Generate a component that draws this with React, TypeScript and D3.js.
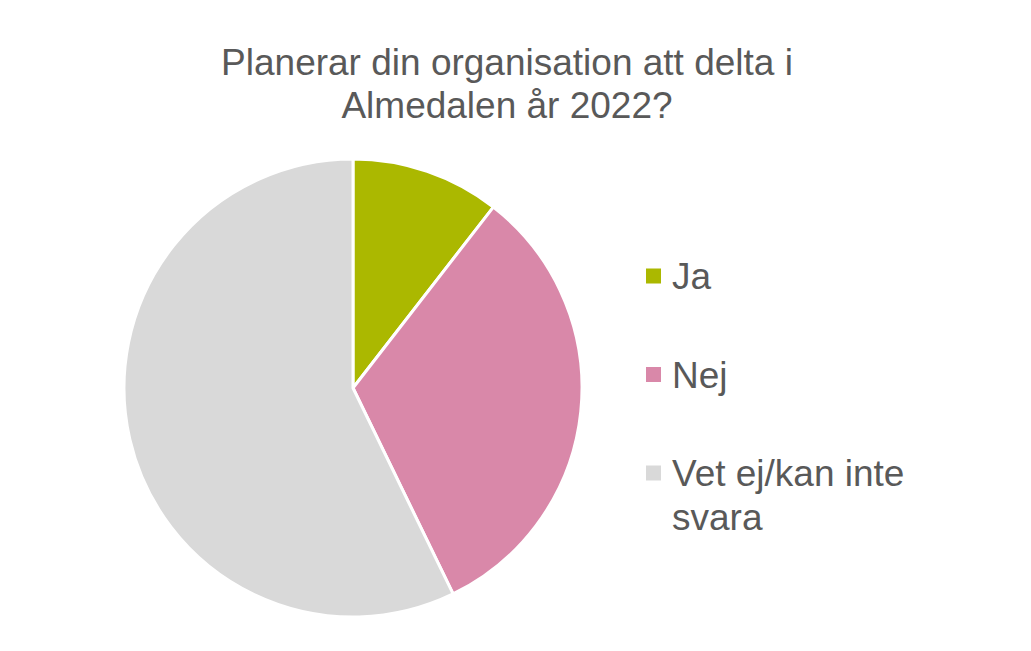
import React from "react";
import * as d3 from "d3";

const categories = ["Ja", "Nej", "Vet ej/kan inte svara"];
const legendLines = [["Ja"], ["Nej"], ["Vet ej/kan inte", "svara"]];
const values = [10.5, 32.3, 57.2];
const colors = ["#ABB800", "#D988A9", "#D9D9D9"];
const titleLines = ["Planerar din organisation att delta i", "Almedalen år 2022?"];

export default function App() {
  const W = 1031, H = 651;
  const cx = 353, cy = 388, r = 229;
  const pie = d3.pie<number>().sort(null).value((d) => d);
  const arcs = pie(values);
  const arc = d3.arc<d3.PieArcDatum<number>>().innerRadius(0).outerRadius(r);
  const legendY = d3.scalePoint<string>().domain(categories).range([276, 473]);
  const font = "'Liberation Sans', Arial, sans-serif";
  return (
    <svg width={W} height={H} style={{ position: "absolute", left: 0, top: 0, background: "#fff" }}>
      <g fill="#595959" fontFamily={font} fontSize={37} textAnchor="middle">
        {titleLines.map((t, i) => (
          <text key={i} x={507} y={75 + i * 43}>{t}</text>
        ))}
      </g>
      <g transform={`translate(${cx},${cy})`}>
        {arcs.map((a, i) => (
          <path key={i} d={arc(a) || ""} fill={colors[i]} stroke="#fff" strokeWidth={3} strokeLinejoin="round" />
        ))}
      </g>
      <g fontFamily={font} fontSize={37} fill="#595959">
        {categories.map((c, i) => {
          const y = legendY(c)!;
          return (
            <g key={c}>
              <rect x={646} y={y - 7.5} width={15} height={15} fill={colors[i]} />
              {legendLines[i].map((ln, j) => (
                <text key={j} x={672} y={y + 13 + j * 44}>{ln}</text>
              ))}
            </g>
          );
        })}
      </g>
    </svg>
  );
}
